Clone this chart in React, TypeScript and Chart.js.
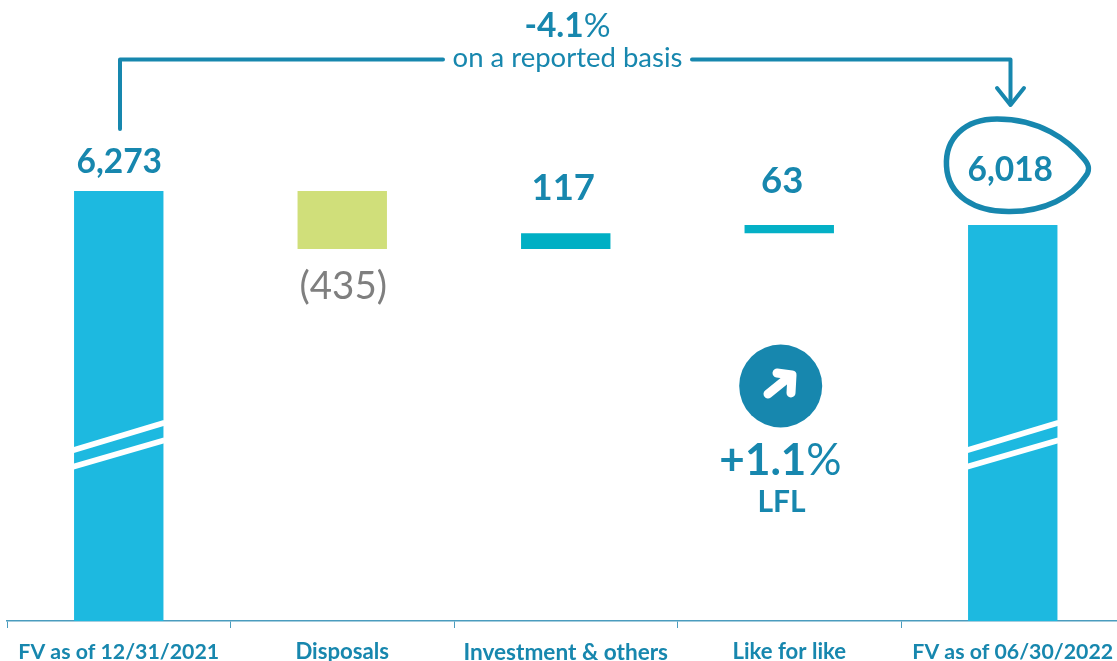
import React, { useEffect, useRef } from "react";
import { Chart, registerables } from "chart.js";

Chart.register(...registerables);

const categories = [
  "FV as of 12/31/2021",
  "Disposals",
  "Investment & others",
  "Like for like",
  "FV as of 06/30/2022",
];
const barLows = [3048, 5838, 5838, 5955, 3048];
const barHighs = [6273, 6273, 5955, 6018, 6018];
const barColors = ["#1DB9E0", "#D0DF7A", "#00AFC4", "#04B0C6", "#1DB9E0"];
const valueLabels = ["6,273", "(435)", "117", "63", "6,018"];
const reportedChange = "-4.1";
const reportedNote = "on a reported basis";
const lflChange = "+1.1";
const lflNote = "LFL";

const tickFontSizes = [21.3, 22.2, 22.6, 22.1, 21.3];
const Y_MIN = 3048;
const Y_MAX = 7705;
const INK = "#1787AE";
const GREY = "#7F7F7F";
const FAMILY = "Lato, Carlito, 'Open Sans', sans-serif";

function runs(ctx: CanvasRenderingContext2D, parts: [string, string][], cx: number, y: number, color: string) {
  ctx.fillStyle = color;
  ctx.textAlign = "left";
  ctx.textBaseline = "alphabetic";
  let total = 0;
  for (const [t, f] of parts) {
    ctx.font = f;
    total += ctx.measureText(t).width;
  }
  let x = cx - total / 2;
  for (const [t, f] of parts) {
    ctx.font = f;
    ctx.fillText(t, x, y);
    x += ctx.measureText(t).width;
  }
}

const overlay = {
  id: "overlay",
  afterDraw(chart: any) {
    const ctx: CanvasRenderingContext2D = chart.ctx;
    const xs = chart.scales.x;
    const c = (i: number) => xs.getPixelForValue(i);
    const bars = chart.getDatasetMeta(0).data;
    ctx.save();

    // axis-break stripes on the two full bars
    [0, 4].forEach((i) => {
      const half = bars[i].width / 2;
      const x0 = bars[i].x - half;
      const x1 = bars[i].x + half;
      ctx.strokeStyle = "#FFFFFF";
      ctx.lineWidth = 5.8;
      ctx.lineCap = "butt";
      [
        [450, 423],
        [466.5, 440.5],
      ].forEach(([a, b]) => {
        ctx.beginPath();
        ctx.moveTo(x0 - 1, a + 0.3);
        ctx.lineTo(x1 + 1, b - 0.3);
        ctx.stroke();
      });
    });

    const big = `700 33.5px ${FAMILY}`;
    const mid = `700 36.5px ${FAMILY}`;
    const bw = (t: string, x: number, y: number, col = INK, font = big) => runs(ctx, [[t, font]], x, y, col);
    bw(valueLabels[0], c(0) + 0.5, 173, INK);
    bw(valueLabels[1], c(1) + 1, 299, GREY, `400 38.5px ${FAMILY}`);
    bw(valueLabels[2], c(2) - 2.5, 199.5, INK, mid);
    bw(valueLabels[3], c(3) - 7, 192.5, INK, mid);
    bw(valueLabels[4], c(4) - 2.5, 181, INK);

    runs(ctx, [[reportedChange, `700 33.5px ${FAMILY}`], ["%", `400 33.5px ${FAMILY}`]], 567.5, 37, INK);
    runs(ctx, [[reportedNote, `400 27.5px ${FAMILY}`]], 567.5, 67, INK);

    // bracket + arrow
    ctx.strokeStyle = INK;
    ctx.lineWidth = 4;
    ctx.lineCap = "round";
    ctx.lineJoin = "round";
    ctx.beginPath();
    ctx.moveTo(120, 129);
    ctx.lineTo(120, 59.5);
    ctx.lineTo(443, 59.5);
    ctx.stroke();
    ctx.beginPath();
    ctx.moveTo(692, 59.5);
    ctx.lineTo(1010.5, 59.5);
    ctx.lineTo(1010.5, 104);
    ctx.stroke();
    ctx.beginPath();
    ctx.moveTo(997, 88);
    ctx.lineTo(1010.5, 105);
    ctx.lineTo(1024, 88);
    ctx.stroke();

    // hand-drawn ring around the closing value
    ctx.lineWidth = 5.5;
    ctx.beginPath();
    ctx.moveTo(997, 119);
    ctx.bezierCurveTo(1040, 119, 1068, 140, 1084, 159);
    ctx.bezierCurveTo(1090, 166, 1090, 171, 1085, 177);
    ctx.bezierCurveTo(1072, 197, 1045, 211.5, 1010, 211.5);
    ctx.bezierCurveTo(975, 212, 948, 196, 946.5, 166);
    ctx.bezierCurveTo(945, 138, 965, 119, 997, 119);
    ctx.closePath();
    ctx.stroke();

    // LFL badge
    ctx.fillStyle = INK;
    ctx.beginPath();
    ctx.arc(780.7, 386, 41.5, 0, Math.PI * 2);
    ctx.fill();
    ctx.strokeStyle = "#FFFFFF";
    ctx.lineWidth = 9;
    ctx.beginPath();
    ctx.moveTo(768, 394);
    ctx.lineTo(789, 377);
    ctx.stroke();
    ctx.beginPath();
    ctx.moveTo(777, 373);
    ctx.lineTo(792, 375);
    ctx.lineTo(791, 393);
    ctx.stroke();

    runs(ctx, [[lflChange, `700 44px ${FAMILY}`], ["%", `400 44px ${FAMILY}`]], 780.5, 475, INK);
    runs(ctx, [[lflNote, `700 30px ${FAMILY}`]], 781.5, 512, INK);
    ctx.restore();
  },
};

export default function App() {
  const ref = useRef<HTMLCanvasElement>(null);
  useEffect(() => {
    document.body.style.margin = "0";
    const chart = new Chart(ref.current!, {
      type: "bar",
      data: {
        labels: categories,
        datasets: [
          {
            data: barLows.map((low, i) => [low, barHighs[i]]),
            backgroundColor: barColors,
            borderWidth: 0,
            barPercentage: 0.4,
            categoryPercentage: 1,
          },
        ],
      },
      options: {
        responsive: false,
        animation: false,
        layout: { padding: { left: 7, right: 0.5, top: 0, bottom: 0 } },
        plugins: { legend: { display: false }, tooltip: { enabled: false }, title: { display: false } },
        scales: {
          x: {
            afterFit: (s: any) => {
              s.height = 40;
            },
            border: { display: true, color: "#4A9CBE", width: 1.5 },
            grid: {
              offset: true,
              drawOnChartArea: false,
              drawTicks: true,
              tickLength: 7,
              color: "#4A9CBE",
              lineWidth: 1,
            },
            ticks: {
              maxRotation: 0,
              autoSkip: false,
              padding: 11,
              color: INK,
              font: (ctx: any) => ({
                family: FAMILY,
                size: tickFontSizes[ctx.index] ?? 21.3,
                weight: "bold",
              }),
            },
          },
          y: { display: false, min: Y_MIN, max: Y_MAX },
        },
      },
      plugins: [overlay],
    } as any);
    return () => chart.destroy();
  }, []);
  return (
    <div style={{ width: 1117, height: 661, overflow: "hidden", position: "relative" }}>
      <canvas ref={ref} width={1125} height={661} style={{ display: "block" }} />
    </div>
  );
}
